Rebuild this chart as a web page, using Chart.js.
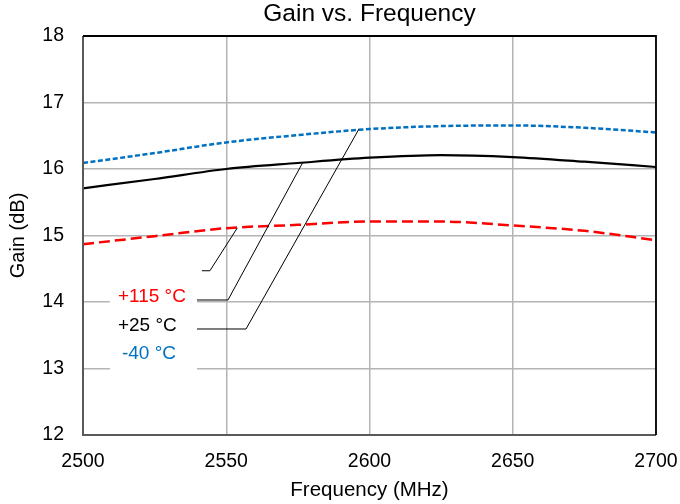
<!DOCTYPE html>
<html>
<head>
<meta charset="utf-8">
<script src="https://cdn.jsdelivr.net/npm/chart.js@4/dist/chart.umd.min.js"></script>
<style>
html,body{margin:0;padding:0;background:#fff;}
#wrap{width:680px;height:504px;position:relative;}
</style>
</head>
<body>
<div id="wrap"><canvas id="c" width="680" height="504"></canvas></div>
<script>
// ---- data ----
const frequencies = [2500, 2525, 2550, 2575, 2600, 2625, 2650, 2675, 2700];
const gainMinus40 = [16.09, 16.24, 16.40, 16.51, 16.60, 16.645, 16.655, 16.62, 16.55];
const gainPlus25  = [15.71, 15.85, 16.00, 16.09, 16.17, 16.21, 16.18, 16.11, 16.03];
const gainPlus115 = [14.87, 14.99, 15.11, 15.16, 15.21, 15.21, 15.15, 15.07, 14.93];
const xTicks = [2500, 2550, 2600, 2650, 2700];
const yTicks = [12, 13, 14, 15, 16, 17, 18];

// callout labels (data coordinates)
const labelTexts  = ['+115 °C', '+25 °C', '-40 °C'];
const labelFreq   = [2512.2, 2512.2, 2513.6];
const labelGain   = [14.075, 13.647, 13.218];
// leader lines
const leaderStartF = [2541.5, 2539.8, 2539.8];
const leaderKneeF  = [2544.3, 2550.6, 2556.9];
const leaderY      = [14.47, 14.03, 13.594];
const leaderEndF   = [2553.8, 2576.8, 2596.3];
const leaderEndY   = [15.11, 16.105, 16.60];
const boxF = [2509.4, 2539.8];
const boxG = [14.28, 12.93];

const FONT = "'Liberation Sans', Arial, sans-serif";
const toPts = (ys) => frequencies.map((f, i) => ({x: f, y: ys[i]}));

const overlay = {
  id: 'overlay',
  beforeDatasetsDraw(chart) {
    const {ctx, scales: {x, y}} = chart;
    ctx.save();
    ctx.fillStyle = '#ffffff';
    const x0 = x.getPixelForValue(boxF[0]), x1 = x.getPixelForValue(boxF[1]);
    const y0 = y.getPixelForValue(boxG[0]), y1 = y.getPixelForValue(boxG[1]);
    ctx.fillRect(x0, y0, x1 - x0, y1 - y0);
    ctx.restore();
  },
  afterDatasetsDraw(chart) {
    const {ctx, chartArea: a, scales: {x, y}} = chart;
    ctx.save();
    ctx.strokeStyle = '#000';
    ctx.lineWidth = 1;
    for (let i = 0; i < leaderY.length; i++) {
      ctx.beginPath();
      ctx.moveTo(x.getPixelForValue(leaderStartF[i]), y.getPixelForValue(leaderY[i]));
      ctx.lineTo(x.getPixelForValue(leaderKneeF[i]), y.getPixelForValue(leaderY[i]));
      ctx.lineTo(x.getPixelForValue(leaderEndF[i]), y.getPixelForValue(leaderEndY[i]));
      ctx.stroke();
    }
    const colors = ['#ff0000', '#000000', '#0070c0'];
    ctx.font = '19px ' + FONT;
    ctx.textAlign = 'left';
    ctx.textBaseline = 'middle';
    for (let i = 0; i < labelTexts.length; i++) {
      ctx.fillStyle = colors[i];
      ctx.fillText(labelTexts[i], x.getPixelForValue(labelFreq[i]), y.getPixelForValue(labelGain[i]));
    }
    ctx.lineWidth = 2;
    ctx.strokeStyle = '#595959';
    ctx.beginPath();
    ctx.moveTo(a.left, a.top); ctx.lineTo(a.left, a.bottom); ctx.lineTo(a.right, a.bottom);
    ctx.stroke();
    ctx.strokeStyle = '#000';
    ctx.lineWidth = 1.8;
    ctx.beginPath();
    ctx.moveTo(a.left, a.top); ctx.lineTo(a.right, a.top); ctx.lineTo(a.right, a.bottom);
    ctx.stroke();
    ctx.restore();
  }
};

new Chart(document.getElementById('c'), {
  type: 'line',
  data: {
    datasets: [
      {label: '-40 °C', data: toPts(gainMinus40), borderColor: '#0070c0', borderWidth: 2.5, borderDash: [5, 2.5], pointRadius: 0, tension: 0.4, cubicInterpolationMode: 'monotone', fill: false},
      {label: '+25 °C', data: toPts(gainPlus25), borderColor: '#000000', borderWidth: 2.2, pointRadius: 0, tension: 0.4, cubicInterpolationMode: 'monotone', fill: false},
      {label: '+115 °C', data: toPts(gainPlus115), borderColor: '#ff0000', borderWidth: 2.5, borderDash: [11, 5], pointRadius: 0, tension: 0.4, cubicInterpolationMode: 'monotone', fill: false}
    ]
  },
  options: {
    responsive: false,
    animation: false,
    layout: {padding: {left: 0, right: 24, top: 0, bottom: 0}},
    plugins: {
      legend: {display: false},
      tooltip: {enabled: false},
      title: {display: true, fullSize: false, text: 'Gain vs. Frequency', color: '#000', font: {family: FONT, size: 24.5, weight: 'normal'}, padding: {top: 0, bottom: 6.6}}
    },
    scales: {
      x: {
        type: 'linear', min: 2500, max: 2700,
        afterBuildTicks: (s) => { s.ticks = xTicks.map(v => ({value: v})); },
        afterFit: (s) => { s.height = 69; s.paddingLeft = 0; s.paddingRight = 0; },
        grid: {color: '#b4b4b4', lineWidth: 1.5, drawTicks: false},
        border: {display: false},
        ticks: {color: '#000', font: {family: FONT, size: 19.5}, padding: 15, maxRotation: 0, callback: (v) => String(v)},
        title: {display: true, text: 'Frequency (MHz)', color: '#000', font: {family: FONT, size: 20.5}, padding: {top: 0, bottom: 1.7}}
      },
      y: {
        type: 'linear', min: 12, max: 18,
        afterBuildTicks: (s) => { s.ticks = yTicks.map(v => ({value: v})); },
        afterFit: (s) => { s.width = 83; },
        grid: {color: '#b4b4b4', lineWidth: 1.5, drawTicks: false},
        border: {display: false},
        ticks: {color: '#000', font: {family: FONT, size: 19.5}, padding: 19, callback: (v) => String(v)},
        title: {display: true, text: 'Gain (dB)', color: '#000', font: {family: FONT, size: 20}, padding: {top: 6, bottom: 0}}
      }
    }
  },
  plugins: [overlay]
});
</script>
</body>
</html>
